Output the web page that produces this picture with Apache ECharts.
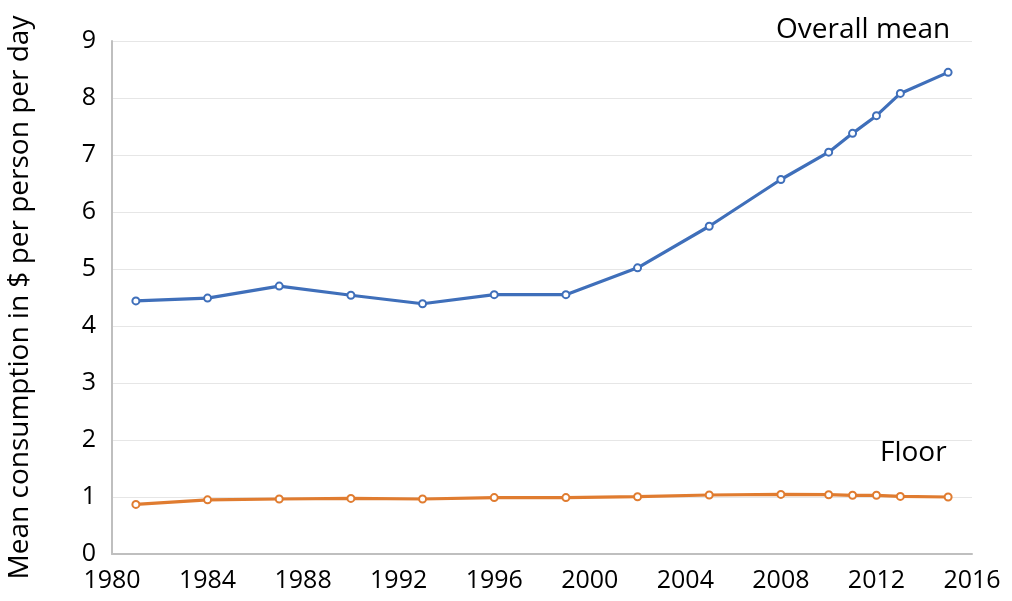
<!DOCTYPE html>
<html>
<head>
<meta charset="utf-8">
<script src="https://cdn.jsdelivr.net/npm/echarts@6/dist/echarts.min.js"></script>
<style>
  html, body { margin: 0; padding: 0; background: #fff; }
  #chart { width: 1012px; height: 601px; }
</style>
</head>
<body>
<div id="chart"></div>
<script>
// years with observations
var years = [1981, 1984, 1987, 1990, 1993, 1996, 1999, 2002, 2005, 2008, 2010, 2011, 2012, 2013, 2015];
// overall mean consumption ($/person/day)
var overallMean = [4.44, 4.49, 4.70, 4.54, 4.39, 4.55, 4.55, 5.02, 5.75, 6.57, 7.05, 7.38, 7.69, 8.08, 8.45];
// floor
var floor = [0.87, 0.95, 0.965, 0.975, 0.965, 0.99, 0.99, 1.005, 1.035, 1.045, 1.04, 1.03, 1.03, 1.01, 1.0];

var FONT = '"Open Sans", "Noto Sans", sans-serif';
var BLUE = '#3f6fba';
var ORANGE = '#e07c30';

function pairs(xs, ys) {
    return xs.map(function (x, i) { return [x, ys[i]]; });
}

var chart = echarts.init(document.getElementById('chart'));
chart.setOption({
    animation: false,
    textStyle: { fontFamily: FONT },
    grid: { left: 112, right: 40, top: 41, bottom: 47, outerBoundsMode: 'none', containLabel: false },
    xAxis: {
        type: 'value',
        min: 1980,
        max: 2016,
        interval: 4,
        axisLine: { show: true, lineStyle: { color: '#bfbfbf', width: 2 } },
        axisTick: { show: false },
        splitLine: { show: false },
        axisLabel: {
            color: '#000', fontSize: 25, fontFamily: FONT, margin: 14,
            formatter: function (v) { return String(v); }
        }
    },
    yAxis: {
        type: 'value',
        min: 0,
        max: 9,
        interval: 1,
        name: 'Mean consumption in $ per person per day',
        nameLocation: 'middle',
        nameGap: 78,
        nameTextStyle: { color: '#000', fontSize: 28, fontFamily: FONT },
        axisLine: { show: true, lineStyle: { color: '#bfbfbf', width: 2 } },
        axisTick: { show: false },
        splitLine: { lineStyle: { color: '#e6e6e6', width: 1 } },
        axisLabel: { color: '#000', fontSize: 25, fontFamily: FONT, margin: 16 }
    },
    series: [
        {
            name: 'Overall mean',
            type: 'line',
            data: pairs(years, overallMean),
            symbol: 'emptyCircle',
            symbolSize: 7,
            lineStyle: { width: 3.2, color: BLUE },
            itemStyle: { color: BLUE, borderWidth: 2 }
        },
        {
            name: 'Floor',
            type: 'line',
            data: pairs(years, floor),
            symbol: 'emptyCircle',
            symbolSize: 7,
            lineStyle: { width: 3.2, color: ORANGE },
            itemStyle: { color: ORANGE, borderWidth: 2 }
        }
    ],
    graphic: [
        {
            type: 'text', left: 776, top: 16,
            style: { text: 'Overall mean', fill: '#000', font: '28px ' + FONT }
        },
        {
            type: 'text', left: 880, top: 439,
            style: { text: 'Floor', fill: '#000', font: '28px ' + FONT }
        }
    ]
});
</script>
</body>
</html>
